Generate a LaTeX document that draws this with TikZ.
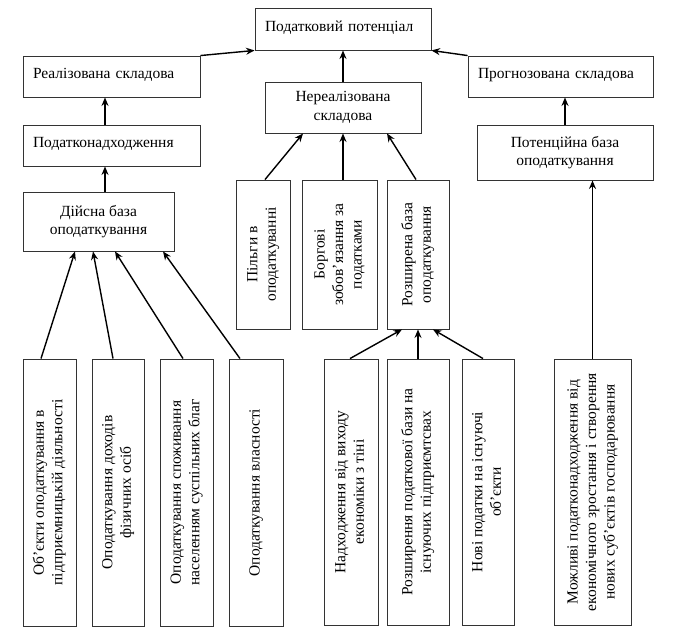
\documentclass[tikz,border=0pt]{standalone}
\usepackage{fontspec}
\usepackage{graphicx}
\setmainfont{Liberation Serif}
\usetikzlibrary{arrows.meta}
\newcommand\vtext[1]{\rotatebox{90}{\begin{tabular}{@{}c@{}}#1\end{tabular}}}
\newcommand\bx[6]{\node[#1, minimum width={#4-#2}, minimum height={#5-#3}] (#6) at ({(#2+#4)/2},{-(#3+#5)/2})}
\tikzset{
  box/.style={draw=black!80, line width=0.9pt, inner sep=0pt, align=center,
    font=\fontsize{15.5}{18.5}\selectfont},
  lbox/.style={box, align=left, inner xsep=10pt, text depth=6pt},
  arr/.style={line width=1.4pt, -{Stealth[length=8.5pt,width=7pt]}}
}
\begin{document}
\begin{tikzpicture}[x=1pt,y=1pt]
\useasboundingbox (0,0) rectangle (686,-634);
% top levels
\bx{lbox, text width=156}{255}{8}{431}{50}{pot} {Податковий потенціал};
\bx{lbox, text width=157}{23}{56}{200}{97}{real} {Реалізована складова};
\bx{lbox, text width=165}{468}{56}{653}{97}{prog} {Прогнозована складова};
\bx{box}{265}{82}{421}{133}{nereal} {Нереалізована\\складова};
\bx{lbox, text width=157}{23}{125}{200}{166}{podnad} {Податконадходження};
\bx{box}{477}{125}{653}{180}{potbase} {Потенційна база\\оподаткування};
\bx{box}{23}{192}{174}{251}{diysna} {Дійсна база\\оподаткування};
% middle vertical boxes
\bx{box}{236}{180}{290}{329}{pilhy} {\vtext{Пільги в\\оподаткуванні}};
\bx{box}{302}{180}{377}{329}{borh} {\vtext{Боргові\\зобов’язання за\\податками}};
\bx{box}{387}{180}{449}{329}{rozsh} {\vtext{Розширена база\\оподаткування}};
% bottom boxes
\bx{box}{23}{359}{76}{626}{b1} {\vtext{Об’єкти оподаткування в\\підприємницькій діяльності}};
\bx{box}{92}{359}{144}{626}{b2} {\vtext{Оподаткування доходів\\фізичних осіб}};
\bx{box}{160}{359}{213}{626}{b3} {\vtext{Оподаткування споживання\\населенням суспільних благ}};
\bx{box}{229}{359}{283}{626}{b4} {\vtext{Оподаткування власності}};
\bx{box}{324}{359}{378}{625}{nadh} {\vtext{Надходження від виходу\\економіки з тіні}};
\bx{box}{387}{359}{449}{625}{rozshp} {\vtext{Розширення податкової бази на\\існуючих підприємтсвах}};
\bx{box}{462}{359}{514}{625}{novi} {\vtext{Нові податки на існуючі\\об’єкти}};
\bx{box}{554}{359}{631}{625}{mozh} {\vtext{Можливі податконадходження від\\економічного зростання і створення\\нових суб’єктів господарювання}};
% connectors
\draw[arr] (real.north east) -- (pot.south west);
\draw[arr] (prog.north west) -- (pot.south east);
\draw[arr] (nereal.north) -- (pot.south);
\draw[arr] ([xshift=-6.5]podnad.north) -- ([xshift=-6.5]real.south);
\draw[arr] ([xshift=6.5]diysna.north) -- ([xshift=6.5]diysna.north |- podnad.south);
\draw[arr] (potbase.north) -- (potbase.north |- prog.south);
\draw[arr] (mozh.north) -- (mozh.north |- potbase.south);
\draw[arr] ([xshift=2]pilhy.north) -- ([xshift=-40]nereal.south);
\draw[arr] (nereal.south |- borh.north) -- (nereal.south);
\draw[arr] ([xshift=-2]rozsh.north) -- ([xshift=44]nereal.south);
\draw[arr] ([xshift=-8.5]b1.north) -- ([xshift=-23.5]diysna.south);
\draw[arr] ([xshift=-5]b2.north) -- ([xshift=-5.5]diysna.south);
\draw[arr] ([xshift=-3.5]b3.north) -- ([xshift=16.5]diysna.south);
\draw[arr] ([xshift=-16]b4.north) -- ([xshift=64.5]diysna.south);
\draw[arr] ([xshift=-1]nadh.north) -- ([xshift=-16]rozsh.south);
\draw[arr] (rozshp.north) -- (rozshp.north |- rozsh.south);
\draw[arr] ([xshift=-5]novi.north) -- ([xshift=15]rozsh.south);
\end{tikzpicture}
\end{document}
